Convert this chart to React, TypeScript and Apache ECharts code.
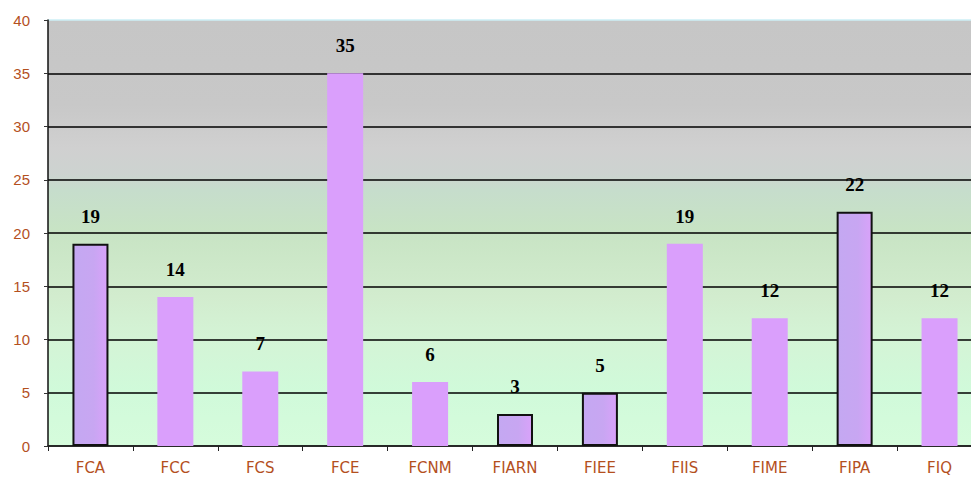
import React, { useEffect, useRef } from "react";
import * as echarts from "echarts";

const categories = ["FCA", "FCC", "FCS", "FCE", "FCNM", "FIARN", "FIEE", "FIIS", "FIME", "FIPA", "FIQ"];
const values = [19, 14, 7, 35, 6, 3, 5, 19, 12, 22, 12];
const outlinedCategories = ["FCA", "FIARN", "FIEE", "FIPA"];
const yTicks = { min: 0, max: 40, interval: 5 };

export default function App() {
  const ref = useRef<HTMLDivElement>(null);
  useEffect(() => {
    if (!ref.current) return;
    const chart = echarts.init(ref.current, null, { renderer: "svg" });
    const plainColor = "#DA9FFC";
    const outlinedFill = new echarts.graphic.LinearGradient(0, 0, 1, 0, [
      { offset: 0, color: "#C4A8F2" },
      { offset: 0.6, color: "#C8A6F2" },
      { offset: 1, color: "#D9A2FA" },
    ]);
    const data = categories.map((c, i) => {
      const outlined = outlinedCategories.includes(c);
      return {
        value: values[i],
        itemStyle: outlined
          ? { color: outlinedFill, borderColor: "#111", borderWidth: 2 }
          : { color: plainColor, borderWidth: 0 },
      };
    });
    const splitColors = ["#000", "#000", "#000", "#000", "#000", "#000", "#000", "#000", "#CDEFF6"];
    chart.setOption({
      animation: false,
      grid: {
        left: 48,
        top: 20,
        bottom: 35,
        right: 8,
        show: true,
        borderWidth: 0,
        backgroundColor: new echarts.graphic.LinearGradient(0, 0, 0, 1, [
          { offset: 0, color: "#C6C6C6" },
          { offset: 0.2, color: "#C8C8C8" },
          { offset: 0.3, color: "#D0D0D0" },
          { offset: 0.36, color: "#CDD3D0" },
          { offset: 0.4, color: "#C6DDCC" },
          { offset: 0.5, color: "#C8E4C4" },
          { offset: 0.65, color: "#D2ECCE" },
          { offset: 0.75, color: "#D4F4D6" },
          { offset: 0.87, color: "#D0FADA" },
          { offset: 1, color: "#D6FCDC" },
        ]),
      },
      xAxis: {
        type: "category",
        data: categories,
        axisLine: { show: true, lineStyle: { color: "#222", width: 1.5 } },
        axisTick: { show: true, length: 5, lineStyle: { color: "#222", width: 1 } },
        axisLabel: {
          color: "#B4501E",
          fontFamily: "DejaVu Sans, Arial, sans-serif",
          fontSize: 15,
          margin: 14,
        },
      },
      yAxis: {
        type: "value",
        min: yTicks.min,
        max: yTicks.max,
        interval: yTicks.interval,
        axisLine: { show: true, lineStyle: { color: "#111", width: 1.5 } },
        axisTick: { show: true, length: 4, lineStyle: { color: "#333" } },
        axisLabel: {
          color: "#B4501E",
          fontFamily: "Liberation Sans, Arial, sans-serif",
          fontSize: 15,
          margin: 18,
        },
        splitLine: { show: true, lineStyle: { color: splitColors, width: 1.5 } },
      },
      series: [
        {
          type: "bar",
          data,
          barWidth: 36,
          label: {
            show: true,
            position: "top",
            distance: 18,
            color: "#000",
            fontFamily: "Liberation Serif, Times New Roman, serif",
            fontWeight: "bold",
            fontSize: 19,
          },
        },
      ],
    });
    return () => chart.dispose();
  }, []);
  return (
    <div style={{ position: "absolute", left: 0, top: 0, width: 971, height: 481, overflow: "hidden" }}>
      <div ref={ref} style={{ width: 990, height: 481 }} />
    </div>
  );
}
